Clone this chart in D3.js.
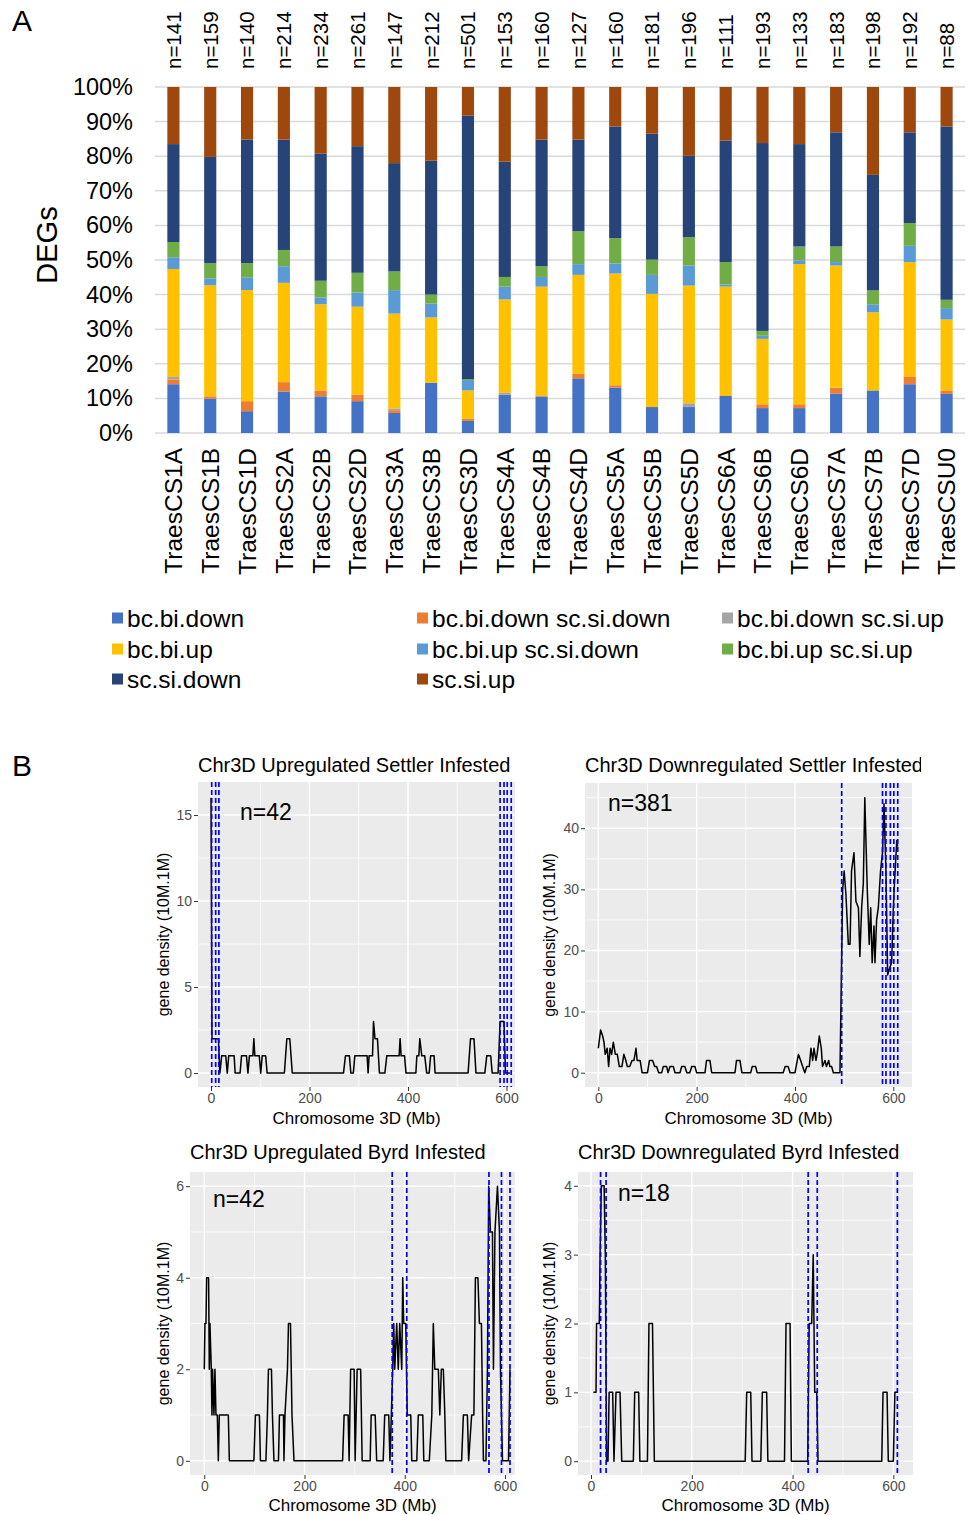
<!DOCTYPE html>
<html>
<head>
<meta charset="utf-8">
<script src="https://cdn.jsdelivr.net/npm/d3@7"></script>
<style>
body { margin: 0; background: #fff; }
text { font-family: "Liberation Sans", Arial, sans-serif; }
</style>
</head>
<body>
<svg id="fig" width="968" height="1515"></svg>
<script>
// ---------- panel A data ----------
var chromosomes = ["TraesCS1A","TraesCS1B","TraesCS1D","TraesCS2A","TraesCS2B","TraesCS2D","TraesCS3A","TraesCS3B","TraesCS3D","TraesCS4A","TraesCS4B","TraesCS4D","TraesCS5A","TraesCS5B","TraesCS5D","TraesCS6A","TraesCS6B","TraesCS6D","TraesCS7A","TraesCS7B","TraesCS7D","TraesCSU0"];
var nCounts = [141,159,140,214,234,261,147,212,501,153,160,127,160,181,196,111,193,133,183,198,192,88];

var seriesNames = ["bc.bi.down","bc.bi.down sc.si.down","bc.bi.down sc.si.up","bc.bi.up","bc.bi.up sc.si.down","bc.bi.up sc.si.up","sc.si.down","sc.si.up"];
var seriesColors = ["#4472C4","#ED7D31","#A5A5A5","#FFC000","#5B9BD5","#70AD47","#264478","#9E480E"];

// percent of DEGs, one value per chromosome
var bcBiDown       = [14.1,9.9,6.3,12.0,10.6,9.2,5.8,14.5,3.5,11.1,10.6,15.8,13.1,7.5,7.5,10.7,7.2,7.2,11.4,12.3,14.1,11.3];
var bcBiDownScDown = [1.3,0.7,2.9,2.7,1.7,1.9,0.8,0,0.6,0,0,1.3,0.7,0,0,0,1.1,1.1,1.7,0,2.1,1.0];
var bcBiDownScUp   = [0.8,0,0,0,0,0,0.5,0,0,0.5,0,0,0,0,1.1,0,0,0,0,0,0,0];
var bcBiUp         = [31.2,32.1,32.1,28.7,24.9,25.4,27.4,18.9,8.2,27.0,31.7,28.6,32.3,32.7,34.0,31.6,18.9,40.5,35.3,22.6,33.2,20.5];
var bcBiUpScDown   = [3.4,2.0,3.7,4.8,2.0,4.1,6.8,4.0,3.0,3.7,2.8,3.1,2.9,5.5,5.8,0.6,0.9,1.1,1.0,2.3,4.7,3.3];
var bcBiUpScUp     = [4.4,4.4,4.1,4.7,4.8,5.7,5.4,2.6,0.3,2.8,3.1,9.5,7.3,4.4,8.2,6.5,1.4,4.0,4.5,4.0,6.6,2.4];
var scSiDown       = [28.3,30.7,35.7,31.9,36.7,36.6,31.3,38.7,76.1,33.3,36.6,26.5,32.3,36.4,23.5,35.1,54.3,29.6,33.0,33.4,26.2,50.1];
var scSiUp         = [16.5,20.2,15.2,15.2,19.3,17.1,22.0,21.3,8.3,21.6,15.2,15.2,11.4,13.5,19.9,15.5,16.2,16.5,13.1,25.4,13.1,11.4];

var percentTicks = [0,0.1,0.2,0.3,0.4,0.5,0.6,0.7,0.8,0.9,1];

// ---------- panel B data: [position Mb, gene density] ----------
var upSettler = [[0,16],[2,2],[4,2],[15,2],[18,0],[21.7,1],[30,1],[33,0],[36,1],[47,1],[49,0],[59,0],[62,1],[72,1],[75,0],[78,1],[85,1],[87,2],[89,1],[98,1],[101,0],[104,1],[111,1],[114,0],[149,0],[154,2],[160,2],[165,0],[269,0],[273,1],[281,1],[284,0],[289,0],[292,1],[317,1],[319,0],[321,1],[328,1],[330,3],[333,2],[338,2],[342,0],[353,0],[357,1],[382,1],[384,2],[386,1],[393,1],[396,0],[416,0],[418,1],[422,1],[424,2],[428,1],[434,1],[438,0],[443,0],[446,1],[453,1],[455,0],[522,0],[527,2],[534,2],[538,0],[556,0],[560,1],[568,1],[571,0],[583,0],[587,3],[595,3],[598,0],[607,0]];
var downSettler = [[0,4],[4.7,7],[8.8,6],[11.5,5],[14,3],[18,4],[21,1],[23.7,4],[27,3],[30.5,5],[34.6,3],[38.6,3],[42.7,1],[48,1],[52,3],[56,2],[59,1],[64,1],[68.5,2],[72.5,2],[76.6,4],[79,2],[85,2],[89,0],[100,0],[104,2],[110.5,2],[114.6,1],[118.6,1],[122.7,0],[129,0],[132,1],[139,1],[141.7,0],[145.8,1],[152.5,1],[156,0],[166,0],[169.5,1],[176,1],[180,0],[186,0],[190,1],[196.6,1],[200,0],[217,0],[220,2],[227,2],[230.5,0],[278,0],[281,2],[288,2],[292,0],[310,0],[313,1],[320,1],[323,0],[376,0],[380,1],[386,1],[390,0],[400,0],[407,3],[411.5,2],[415.6,1],[420,0],[424,1],[429,1],[432.5,4],[436,2],[438.6,4],[442.7,2],[445,3],[449.5,6],[453.5,4],[456,1],[461,2],[464,1],[468.5,2],[471,1],[474.6,1],[478,0],[491.5,0],[497,30],[500,33],[503.7,29],[508.5,21],[512,21],[515,33],[520,36],[524,28],[529,27],[532,19],[535.6,27],[539,31],[542,45],[547,30],[551,21],[554,27],[557,18],[560.7,24],[562.7,18],[566,25],[569.5,27],[574,33],[578,36],[581,44],[585,33],[588.5,16],[592,17],[596.6,18],[600,27],[603,32],[607,38],[608.8,37]];
var upByrd = [[0,2],[1.3,3],[3.3,3],[4.7,4],[8.6,4],[10,2],[11.3,3],[14,2],[15.3,1],[16.6,2],[19.3,1],[21.3,2],[23.3,1],[26,1],[28,0],[30,1],[48,1],[50,0],[99,0],[102,1],[110,1],[112,0],[123,0],[126,1],[128,2],[134,2],[136,1],[139,0],[148,0],[150,1],[158,1],[159,0],[161,1],[166,2],[168,3],[172,3],[175,1],[179,0],[276,0],[279,1],[287,1],[289,0],[292,2],[299,2],[301,0],[305,2],[312,2],[315,0],[331,0],[333,1],[341,1],[344,0],[357,0],[360,1],[368,1],[370.5,0],[376,2],[378,3],[380,2],[384,3],[387,2],[390,3],[394,2],[396,4],[398,3],[402,3],[405,1],[412,1],[414,0],[424,0],[427,1],[436,1],[438,0],[449,0],[454,1],[457,3],[460,2],[467,2],[470,1],[473,2],[477,2],[480,1],[482,0],[513.5,0],[517,1],[525,1],[527.5,0],[533.5,1],[538,1],[541,4],[546,4],[549,3],[553,3],[555.4,1],[557,0],[562,0],[565,2],[567.5,6],[571,5],[575,5],[577,2],[580,5],[585,6],[589,5],[591,2],[595,0],[607,0],[610,2]];
var downByrd = [[4.6,1],[10,1],[11,2],[16.5,2],[18,3],[20.5,4],[26,4],[28.4,3],[31,0],[33.7,0],[36,1],[43,1],[45.6,0],[49.6,1],[57.6,1],[61,0],[84,0],[86.7,1],[94.6,1],[97,0],[112,0],[115,2],[122,2],[125.7,0],[306,0],[309,1],[317,1],[319.5,0],[337,0],[340,1],[348.6,1],[351,0],[384,0],[387,2],[395,2],[397.6,0],[430,0],[433,2],[438,2],[441,3],[444,1],[448,1],[450.5,0],[577,0],[579.5,1],[587.5,1],[590,0],[600,0],[603,1],[608,1]];

var upSettlerLines = [1.4,9.5,16,587,595,601.5,609.6];
var downSettlerLines = [495,578,585,594,601,609];
var upByrdLines = [375,404,568,593,610];
var downByrdLines = [19,30,431,449,608];

var xTicks = [0,200,400,600];

var svg = d3.select("#fig");

// ---------- panel A ----------
var topA = 87, bottomA = 433, leftA = 155, rightA = 965;

var xA = d3.scaleBand().domain(chromosomes).range([leftA, rightA]).paddingInner(0.67).paddingOuter(0.335);
var yA = d3.scaleLinear().domain([0,1]).range([bottomA, topA]);

var rows = chromosomes.map(function(c, i) {
  return {chr: c, "bc.bi.down": bcBiDown[i], "bc.bi.down sc.si.down": bcBiDownScDown[i],
    "bc.bi.down sc.si.up": bcBiDownScUp[i], "bc.bi.up": bcBiUp[i], "bc.bi.up sc.si.down": bcBiUpScDown[i],
    "bc.bi.up sc.si.up": bcBiUpScUp[i], "sc.si.down": scSiDown[i], "sc.si.up": scSiUp[i]};
});
var stacked = d3.stack().keys(seriesNames).offset(d3.stackOffsetExpand)(rows);
var color = d3.scaleOrdinal().domain(seriesNames).range(seriesColors);

svg.append("text").attr("x", 12).attr("y", 31).attr("font-size", 30).text("A");

svg.append("g").selectAll("line").data(percentTicks).enter().append("line")
  .attr("x1", leftA).attr("x2", rightA)
  .attr("y1", function(d){ return yA(d); }).attr("y2", function(d){ return yA(d); })
  .attr("stroke", "#D9D9D9").attr("stroke-width", 1.5);

svg.append("g").selectAll("g").data(stacked).enter().append("g")
  .attr("fill", function(d){ return color(d.key); })
  .selectAll("rect").data(function(d){ return d; }).enter().append("rect")
  .attr("x", function(d){ return xA(d.data.chr); })
  .attr("width", xA.bandwidth())
  .attr("y", function(d){ return yA(d[1]); })
  .attr("height", function(d){ return yA(d[0]) - yA(d[1]); });

var yAxisA = svg.append("g").attr("transform", "translate(" + leftA + ",0)")
  .call(d3.axisLeft(yA).tickValues(percentTicks).tickFormat(d3.format(".0%")).tickSize(0).tickPadding(22));
yAxisA.select(".domain").remove();
yAxisA.selectAll("text").attr("font-size", 23.5).attr("fill", "#000").attr("font-family", "Liberation Sans, Arial, sans-serif");

svg.append("text").attr("transform", "translate(57,245) rotate(-90)")
  .attr("text-anchor", "middle").attr("font-size", 29).text("DEGs");

svg.append("g").selectAll("text").data(chromosomes).enter().append("text")
  .attr("transform", function(d){ return "translate(" + (xA(d) + xA.bandwidth()/2) + ",448) rotate(-90)"; })
  .attr("text-anchor", "end").attr("dy", "0.36em").attr("font-size", 24.5)
  .text(function(d){ return d; });

svg.append("g").selectAll("text").data(nCounts).enter().append("text")
  .attr("transform", function(d, i){ return "translate(" + (xA(chromosomes[i]) + xA.bandwidth()/2) + ",69) rotate(-90)"; })
  .attr("text-anchor", "start").attr("dy", "0.36em").attr("font-size", 20.5)
  .text(function(d){ return "n=" + d; });

// legend, three columns row by row
var legendCols = [112, 417, 722], legendRows = [618, 649, 679];
var legend = svg.append("g").selectAll("g").data(seriesNames).enter().append("g")
  .attr("transform", function(d, i){ return "translate(" + legendCols[i % 3] + "," + legendRows[Math.floor(i / 3)] + ")"; });
legend.append("rect").attr("x", 0).attr("y", -5.5).attr("width", 11).attr("height", 11)
  .attr("fill", function(d){ return color(d); });
legend.append("text").attr("x", 15).attr("dy", "0.36em").attr("font-size", 24.5).text(function(d){ return d; });

// ---------- panel B ----------
svg.append("text").attr("x", 12).attr("y", 776).attr("font-size", 30).text("B");

var panels = [
  {title: "Chr3D Upregulated Settler Infested", data: upSettler, lines: upSettlerLines, n: "n=42",
   box: [198, 515, 782, 1087], xDom: [-26.4, 617.3], yDom: [-0.81, 16.92],
   yTicks: [0,5,10,15], yMinor: [2.5,7.5,12.5], nPos: [240, 812], titleY: 772, yTitleX: 163, xTitleY: 1124},
  {title: "Chr3D Downregulated Settler Infested", data: downSettler, lines: downSettlerLines, n: "n=381",
   box: [585, 912, 783, 1087], xDom: [-27.1, 638], yDom: [-2.34, 47.4],
   yTicks: [0,10,20,30,40], yMinor: [5,15,25,35,45], nPos: [608, 803], titleY: 772, yTitleX: 549, xTitleY: 1124, clip: 921},
  {title: "Chr3D Upregulated Byrd Infested", data: upByrd, lines: upByrdLines, n: "n=42",
   box: [190, 515, 1172, 1475], xDom: [-28.5, 620], yDom: [-0.31, 6.31],
   yTicks: [0,2,4,6], yMinor: [1,3,5], nPos: [213, 1199], titleY: 1159, yTitleX: 163, xTitleY: 1511},
  {title: "Chr3D Downregulated Byrd Infested", data: downByrd, lines: downByrdLines, n: "n=18",
   box: [578, 913, 1172, 1475], xDom: [-25.8, 639], yDom: [-0.2, 4.2],
   yTicks: [0,1,2,3,4], yMinor: [0.5,1.5,2.5,3.5], nPos: [618, 1193], titleY: 1159, yTitleX: 549, xTitleY: 1511}
];

panels.forEach(function(p, k) {
  var x = d3.scaleLinear().domain(p.xDom).range([p.box[0], p.box[1]]);
  var y = d3.scaleLinear().domain(p.yDom).range([p.box[3], p.box[2]]);
  var g = svg.append("g");

  g.append("rect").attr("x", p.box[0]).attr("y", p.box[2])
    .attr("width", p.box[1] - p.box[0]).attr("height", p.box[3] - p.box[2]).attr("fill", "#EBEBEB");

  var xMinor = [100, 300, 500];
  g.selectAll(".xmin").data(xMinor).enter().append("line")
    .attr("x1", function(d){ return x(d); }).attr("x2", function(d){ return x(d); })
    .attr("y1", p.box[2]).attr("y2", p.box[3]).attr("stroke", "#fff").attr("stroke-width", 0.7);
  g.selectAll(".ymin").data(p.yMinor).enter().append("line")
    .attr("y1", function(d){ return y(d); }).attr("y2", function(d){ return y(d); })
    .attr("x1", p.box[0]).attr("x2", p.box[1]).attr("stroke", "#fff").attr("stroke-width", 0.7);
  g.selectAll(".xmaj").data(xTicks).enter().append("line")
    .attr("x1", function(d){ return x(d); }).attr("x2", function(d){ return x(d); })
    .attr("y1", p.box[2]).attr("y2", p.box[3]).attr("stroke", "#fff").attr("stroke-width", 1.4);
  g.selectAll(".ymaj").data(p.yTicks).enter().append("line")
    .attr("y1", function(d){ return y(d); }).attr("y2", function(d){ return y(d); })
    .attr("x1", p.box[0]).attr("x2", p.box[1]).attr("stroke", "#fff").attr("stroke-width", 1.4);

  var line = d3.line().x(function(d){ return x(d[0]); }).y(function(d){ return y(d[1]); });
  g.append("path").datum(p.data).attr("d", line)
    .attr("fill", "none").attr("stroke", "#000").attr("stroke-width", 1.5).attr("stroke-linejoin", "round");

  g.selectAll(".vl").data(p.lines).enter().append("line")
    .attr("x1", function(d){ return x(d); }).attr("x2", function(d){ return x(d); })
    .attr("y1", p.box[2]).attr("y2", p.box[3])
    .attr("stroke", "#0000FF").attr("stroke-width", 1.7).attr("stroke-dasharray", "5,3");

  var xa = g.append("g").attr("transform", "translate(0," + p.box[3] + ")")
    .call(d3.axisBottom(x).tickValues(xTicks).tickFormat(d3.format("d")).tickSize(4).tickPadding(2));
  var ya = g.append("g").attr("transform", "translate(" + p.box[0] + ",0)")
    .call(d3.axisLeft(y).tickValues(p.yTicks).tickFormat(d3.format("d")).tickSize(4).tickPadding(2));
  [xa, ya].forEach(function(a) {
    a.select(".domain").remove();
    a.selectAll("line").attr("stroke", "#333");
    a.selectAll("text").attr("font-size", 14).attr("fill", "#4D4D4D").attr("font-family", "Liberation Sans, Arial, sans-serif");
  });

  var title = g.append("text").attr("x", p.box[0]).attr("y", p.titleY).attr("font-size", 20).text(p.title);
  if (p.clip) {
    svg.append("clipPath").attr("id", "tclip" + k).append("rect")
      .attr("x", 0).attr("y", p.titleY - 30).attr("width", p.clip).attr("height", 40);
    title.attr("clip-path", "url(#tclip" + k + ")");
  }

  g.append("text").attr("x", p.nPos[0]).attr("y", p.nPos[1]).attr("dy", "0.36em")
    .attr("font-size", 23).text(p.n);

  g.append("text").attr("x", (p.box[0] + p.box[1]) / 2).attr("y", p.xTitleY)
    .attr("text-anchor", "middle").attr("font-size", 17).text("Chromosome 3D (Mb)");
  g.append("text").attr("transform", "translate(" + p.yTitleX + "," + (p.box[2] + p.box[3]) / 2 + ") rotate(-90)")
    .attr("text-anchor", "middle").attr("dy", "0.36em").attr("font-size", 16).text("gene density (10M.1M)");
});
</script>
</body>
</html>
